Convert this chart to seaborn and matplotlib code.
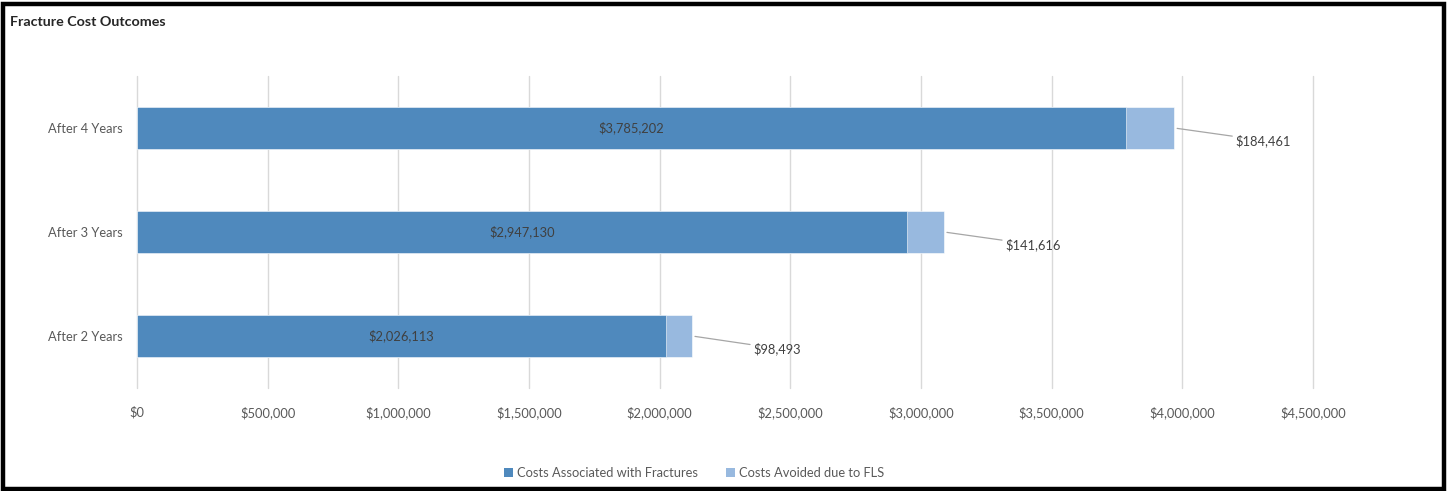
import matplotlib
matplotlib.use("Agg")
import matplotlib.pyplot as plt
import seaborn as sns
import pandas as pd
from matplotlib.patches import Patch, Rectangle
from matplotlib.ticker import FuncFormatter, MultipleLocator

categories = ["After 4 Years", "After 3 Years", "After 2 Years"]
costs_fractures = [3785202, 2947130, 2026113]
costs_avoided = [184461, 141616, 98493]
series_names = ["Costs Associated with Fractures", "Costs Avoided due to FLS"]
title = "Fracture Cost Outcomes"

dark = "#4F89BD"
light = "#98B9DF"
text_col = "#595959"

sns.set_style("white")
plt.rcParams["font.family"] = ["Lato", "DejaVu Sans"]

df = pd.DataFrame({
    "cat": categories,
    "fract": costs_fractures,
    "total": [a + b for a, b in zip(costs_fractures, costs_avoided)],
    "avoided": costs_avoided,
})

fig = plt.figure(figsize=(14.48, 4.91), dpi=100)
ax = fig.add_axes([137 / 1448, 1 - 388 / 491, (1313 - 137) / 1448, 312 / 491])

sns.barplot(data=df, y="cat", x="total", order=categories, color=light,
            width=0.40, ax=ax, orient="h", edgecolor="white", linewidth=0.4,
            saturation=1)
sns.barplot(data=df, y="cat", x="fract", order=categories, color=dark,
            width=0.40, ax=ax, orient="h", edgecolor="white", linewidth=0.4,
            saturation=1)

ax.set_xlim(0, 4500000)
ax.set_ylim(2.5, -0.5)
ax.xaxis.set_major_locator(MultipleLocator(500000))
ax.xaxis.set_major_formatter(FuncFormatter(lambda v, p: f"${v:,.0f}"))
ax.grid(axis="x", color="#D9D9D9", linewidth=1.0)
for gl in ax.get_xgridlines():
    gl.set_clip_on(False)
ax.set_axisbelow(True)
for s in ax.spines.values():
    s.set_visible(False)
ax.tick_params(axis="x", length=0, pad=13, labelsize=9.3, labelcolor=text_col)
ax.tick_params(axis="y", length=0, pad=10, labelsize=9.3, labelcolor=text_col)
ax.set_xlabel("")
ax.set_ylabel("")

for i, (f, a) in enumerate(zip(costs_fractures, costs_avoided)):
    ax.text(f / 2, i, f"${f:,.0f}", ha="center", va="center",
            fontsize=9.3, color="#404040")
    ax.annotate(f"${a:,.0f}", xy=(f + a, i), xytext=(44, -9),
                textcoords="offset points", ha="left", va="center",
                fontsize=9.3, color="#404040",
                arrowprops=dict(arrowstyle="-", color="#A6A6A6", lw=0.9,
                                shrinkA=0, shrinkB=2))

handles = [Patch(facecolor=dark, edgecolor="none"),
           Patch(facecolor=light, edgecolor="none")]
fig.legend(handles, series_names, loc="center", bbox_to_anchor=(0.4795, 1 - 473 / 491),
           ncol=2, frameon=False, fontsize=9.3, labelcolor=text_col,
           handlelength=0.7, handleheight=0.7, handletextpad=0.3, columnspacing=2.2)

fig.text(10 / 1448, 1 - 22 / 491, title, ha="left", va="center",
         fontsize=10.3, fontweight="bold", color="#262626")

fig.patches.append(Rectangle((3 / 1448, 2 / 491), 1441 / 1448, 485 / 491,
                             transform=fig.transFigure, fill=False,
                             edgecolor="black", linewidth=3.2, zorder=10))

fig.savefig("out.png", dpi=100)
